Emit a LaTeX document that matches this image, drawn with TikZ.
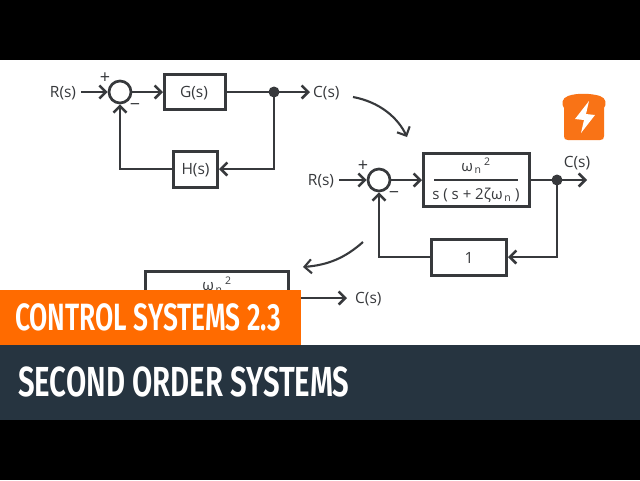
\documentclass[tikz,border=0pt]{standalone}
\usepackage{fontspec}
\setmainfont{Open Sans}
\newfontfamily\bannerfont{Fira Sans SemiBold}
\usetikzlibrary{arrows.meta,calc}
\definecolor{ink}{HTML}{37393C}
\definecolor{brand}{HTML}{FF6B00}
\definecolor{logoc}{HTML}{F97316}
\definecolor{slate}{HTML}{263440}
\tikzset{
  x=1pt,y=-1pt,
  wire/.style={draw=ink,line width=2.7pt,line join=miter},
  arr/.style={wire,-{Straight Barb[length=6.5pt,width=13pt,line width=2.5pt]}},
  curved/.style={draw=ink,line width=2.1pt,-{Straight Barb[length=7pt,width=14pt,line width=2.1pt]}},
  blockbox/.style={draw=ink,line width=3pt,fill=white,inner sep=0pt},
  sumnode/.style={circle,draw=ink,line width=2.7pt,fill=white,minimum size=22pt,inner sep=0pt},
  junction/.style={circle,fill=ink,minimum size=11pt,inner sep=0pt},
  lab/.style={text=ink,font=\fontsize{15.5}{17}\selectfont,inner sep=0pt},
  sign/.style={text=ink,font=\fontsize{18}{19}\selectfont,inner sep=0pt},
  frac/.style={text=ink,font=\fontsize{15}{17}\selectfont,inner sep=0pt},
  banner/.style={text=white,inner sep=0pt,anchor=west},
}
\begin{document}
\begin{tikzpicture}
\useasboundingbox (0,0) rectangle (640,480);
\fill[white] (0,0) rectangle (640,480);
\fill[black] (0,0) rectangle (640,60);
\fill[black] (0,420) rectangle (640,480);

% --- first loop
\coordinate (r1start) at (81,92);
\coordinate (c1end) at (310,92);
\node[lab] (r1) at (63,93) {R(s)};
\node[sumnode] (s1) at (120,92) {};
\node[blockbox,minimum width=61pt,minimum height=35pt] (g1) at (195,92) {};
\node[lab] (g1t) at (194,93) {G(s)};
\node[junction] (j1) at (274,92) {};
\node[lab,anchor=west] (c1) at (313,93) {C(s)};
\node[blockbox,minimum width=44pt,minimum height=36pt] (h1) at (195.5,169) {};
\node[lab] (h1t) at (195.5,170) {H(s)};
\node[sign] (p1) at (105,78) {+};
\node[sign] (m1) at (135,107) {−};
\draw[arr] (r1start) -- (s1.west);
\draw[arr] (s1.east) -- (g1.west);
\draw[wire] (g1.east) -- (j1.center);
\draw[arr] (j1.center) -- (c1end);
\draw[arr] (j1.center) |- (h1.east);
\draw[arr] (h1.west) -| (s1.south);

% --- transition arrows
\coordinate (ca1) at (353,97);
\coordinate (ca2) at (407,137);
\coordinate (cb1) at (363,242);
\coordinate (cb2) at (303,267);
\draw[curved] (ca1) .. controls (380,102) and (398,118) .. (ca2);
\draw[curved] (cb1) .. controls (345,258) and (328,265) .. (cb2);

% --- second loop
\coordinate (r2start) at (339,180);
\coordinate (c2end) at (587,180);
\coordinate (fl2) at (434,180);
\coordinate (fr2) at (518,180);
\node[lab] (r2) at (321,181) {R(s)};
\node[sumnode] (s2) at (379,180) {};
\node[blockbox,minimum width=106pt,minimum height=53pt] (g2) at (476.5,180) {};
\node[frac] (n2) at (476,166) {ω\textsubscript{\,n}\,\raisebox{1pt}{\textsuperscript{2}}};
\node[frac] (d2) at (476,195) {s ( s + 2ζω\textsubscript{\,n} )};
\draw[draw=ink,line width=1.2pt] (fl2) -- (fr2);
\node[junction] (j2) at (557,180) {};
\node[lab] (c2) at (577,163) {C(s)};
\node[blockbox,minimum width=75pt,minimum height=36pt] (u2) at (469,257) {};
\node[lab] (u2t) at (469,258) {1};
\node[sign] (p2) at (363,166) {+};
\node[sign] (m2) at (394,195) {−};
\draw[arr] (r2start) -- (s2.west);
\draw[arr] (s2.east) -- (g2.west);
\draw[wire] (g2.east) -- (j2.center);
\draw[arr] (j2.center) -- (c2end);
\draw[arr] (j2.center) |- (u2.east);
\draw[arr] (u2.west) -| (s2.south);

% --- logo
\fill[logoc] (564,108) -- (564,136) .. controls (564,139) and (565,140) .. (568,140)
  -- (600,140) .. controls (603,140) and (604,139) .. (604,136) -- (604,108)
  .. controls (607,104) and (606,98) .. (600,96) .. controls (590,93) and (576,93) .. (568,96)
  .. controls (562,98) and (561,104) .. (564,108) -- cycle;
\fill[white] (589,101) -- (575,119) -- (584,120) -- (581,133) -- (595,115) -- (586,114) -- cycle;

% --- third loop, mostly hidden by the banner
\coordinate (c3end) at (347,298);
\node[blockbox,minimum width=143pt,minimum height=53pt] (g3) at (217,298) {};
\node[frac] (n3) at (217,285) {ω\textsubscript{\,n}\,\raisebox{1pt}{\textsuperscript{2}}};
\node[lab,anchor=west] (c3) at (355,299) {C(s)};
\draw[arr] (g3.east) -- (c3end);

% --- banners
\fill[brand] (0,290) rectangle (301,345);
\fill[slate] (0,345) rectangle (640,420);
\node[banner,font=\bannerfont\fontsize{38}{40}\selectfont,xscale=0.695] (t1) at (15,317.5) {CONTROL SYSTEMS 2.3};
\node[banner,font=\bannerfont\fontsize{42}{44}\selectfont,xscale=0.70] (t2) at (18,381.5) {SECOND ORDER SYSTEMS};
\end{tikzpicture}
\end{document}
